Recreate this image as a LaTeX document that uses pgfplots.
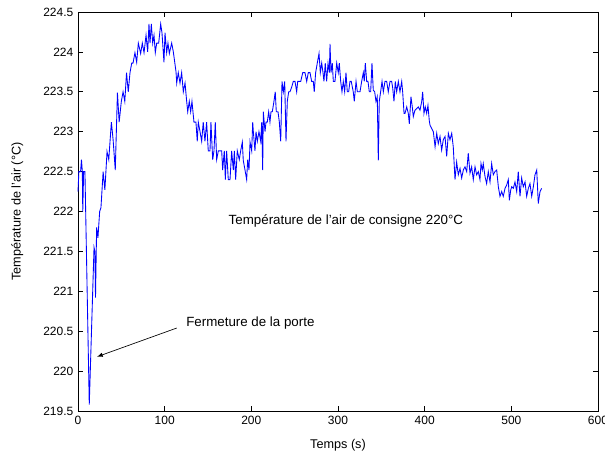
\documentclass[border=0pt]{standalone}
\usepackage{fontspec}
\setmainfont{Liberation Sans}
\usepackage{pgfplots}
\pgfplotsset{compat=1.18}

\begin{document}
\begin{tikzpicture}
\begin{axis}[
    scale only axis,
    width=390pt, height=299.25pt,
    xmin=0, xmax=600, ymin=219.5, ymax=224.5,
    xtick={0,100,...,600},
    ytick={219.5,220,...,224.5},
    tick align=inside,
    major tick length=3.75pt,
    tick style={black, line width=0.5pt},
    axis line style={line width=0.6pt},
    tick label style={font=\fontsize{9}{10}\selectfont},
    label style={font=\fontsize{9.5}{11}\selectfont},
    /pgf/number format/.cd, fixed, precision=1, assume math mode=true,
    /pgfplots/.cd,
    xlabel={Temps (s)},
    ylabel={Température de l'air (°C)},
    xlabel style={at={(axis description cs:0.5,-0.085)}, anchor=center},
    ylabel style={at={(axis description cs:-0.117,0.5)}, anchor=center},
    clip=false,
]
\addplot[color=blue, line width=0.65pt, no marks] coordinates {
(0,222.25) (1,222.5) (3,222.5) (4,222.65) (5,222.5) (5.5,222.0) (6.5,222.5) (8,222.5)
(13,219.58) (18.5,221.55) (19.5,221.5) (20.2,220.92) (21.5,221.8) (23,221.67) (25,222.0)
(26.5,222.05) (29,222.5) (31,222.27) (33.5,222.75) (35.5,222.65) (38.5,223.12) (40.5,222.9)
(43,222.52) (45.5,223.49) (47.5,223.12) (50,223.38) (52,223.5) (54,223.38) (56,223.74)
(58,223.5) (60,223.74) (62,223.86) (63.5,223.86) (65.7,223.99) (67.7,223.87) (69.6,224.11)
(72.3,223.98) (74.2,224.11) (76.2,223.99) (78.5,224.21) (80.4,224.0) (81.9,224.35)
(83.1,224.11) (84.6,224.35) (86.2,224.11) (87.7,224.21) (89.2,223.99) (90.8,224.11)
(93.1,224.11) (95.4,224.35) (96.9,224.24) (99.2,223.87) (100.4,224.24) (102.3,223.99)
(103.8,224.11) (105.4,223.98) (108.1,224.11) (110,224.0) (113.1,223.75) (113.9,223.61)
(115.7,223.74) (117.7,223.61) (119.6,223.74) (121.5,223.5) (123.5,223.61) (125.4,223.38)
(126.6,223.25) (128.4,223.38) (130,223.25) (131.5,223.38) (133.8,223.12) (136.1,223.12)
(137.6,222.88) (138.8,223.12) (140.8,223.0) (142.7,222.88) (144.5,223.12) (146.5,222.88)
(148.4,223.12) (150.3,222.76) (152.3,222.76) (153.4,223.12) (155.4,222.65) (156.9,222.76)
(158.4,223.12) (160,222.65) (161.9,222.76) (163.8,222.76) (165.8,222.76) (166.9,222.52)
(168.8,222.76) (170,222.4) (171.5,222.76) (173.4,222.4) (175.4,222.4) (177.3,222.76)
(179.2,222.52) (180.4,222.76) (181.9,222.4) (183.8,222.76) (186.1,222.65) (187.7,222.76)
(189.6,222.87) (190.7,222.64) (192.7,222.52) (194.6,222.4) (195.8,222.65) (197.3,222.52)
(198.5,222.87) (200.4,222.76) (201.6,223.12)
(202.3,223.0) (204.2,222.76) (205.4,223.0) (206.9,222.88) (208.8,223.0) (210.8,222.88)
(212.0,223.12) (213.1,222.52) (213.8,223.25) (215.8,223.0) (216.9,223.12) (218.4,223.12)
(220.0,223.25) (221.5,223.12) (222.7,223.25) (224.2,223.25) (226.1,223.38) (227.6,223.5)
(228.8,223.25) (230.8,223.25) (232.3,223.12) (233.9,222.88) (235.4,223.63) (236.9,223.5)
(238.5,223.63) (240.0,222.88) (241.5,223.38) (243.1,223.5) (244.6,223.5) (246.6,223.56)
(248.4,223.63) (250.4,223.63) (252.3,223.5) (253.5,223.63) (255.3,223.63) (257.0,223.63)
(259.3,223.74) (261.9,223.74) (263.9,223.63) (265.7,223.74) (267.7,223.74) (269.6,223.63)
(271.5,223.63) (272.6,223.5) (274.2,223.74) (276.1,223.86) (278.1,223.98) (279.6,223.74)
(281.2,223.86) (282.7,223.74) (283.8,223.63) (285.3,223.86) (286.9,223.63) (288.5,223.86)
(290.0,223.74) (290.8,224.1) (291.9,223.74) (293.4,223.86) (294.6,223.63) (296.5,223.63)
(298.5,223.86) (300.3,223.74) (301.5,223.86) (303.1,223.63) (304.6,223.5) (306.1,223.63)
(307.7,223.5) (309.2,223.74) (310.7,223.5) (312.3,223.5) (313.8,223.63) (315.3,223.63)
(317.6,223.5) (318.8,223.38) (320.8,223.63) (322.3,223.5) (323.9,223.5) (325.4,223.5)
(327.3,223.63) (329.2,223.74) (330.3,223.63) (331.5,223.86) (333.1,223.63) (334.6,223.63)
(336.1,223.5) (337.7,223.5) (339.2,223.86) (340.7,223.52) (342.3,223.5) (343.8,223.38)
(345.3,223.44) (346.5,222.64) (347.6,223.38) (349.2,223.5) (350.8,223.63) (352.3,223.5)
(354.2,223.63) (356.2,223.63) (358.0,223.5) (360.0,223.63) (361.9,223.63) (363.1,223.55)
(364.6,223.38) (366.1,223.63) (367.7,223.5) (369.6,223.63) (371.5,223.5) (373.5,223.63)
(374.6,223.5) (376.2,223.23) (377.3,223.23) (379.3,223.31) (381.1,223.23) (382.3,223.1)
(384.2,223.44) (385.7,223.31) (386.9,223.19) (388.8,223.27) (390.8,223.29) (392.6,223.31)
(394.6,223.27) (396.6,223.38) (397.7,223.5) (399.2,223.23) (400.7,223.31) (402.3,223.23)
(403.8,223.33) (405.3,223.14)
(406.2,223.08) (410.0,223.0) (412.0,222.81) (413.9,222.98) (415.7,222.85) (417.7,222.94)
(419.6,222.77) (421.5,222.9) (423.5,222.94) (425.4,222.69) (427.3,222.98) (429.2,222.9)
(431.2,222.98) (433.0,222.81) (435.0,222.4) (436.9,222.62) (438.8,222.46) (440.8,222.54)
(442.7,222.42) (444.6,222.52) (446.5,222.56) (448.5,222.5) (450.3,222.73) (452.3,222.48)
(454.2,222.56) (456.1,222.4) (458.1,222.56) (460.0,222.46) (461.9,222.5) (463.8,222.4)
(465.0,222.6) (466.5,222.52) (467.6,222.6) (469.6,222.44) (471.5,222.35) (473.4,222.5)
(475.4,222.37) (477.3,222.6) (479.2,222.46) (481.1,222.5) (483.1,222.52) (485.0,222.31)
(486.9,222.19) (488.9,222.25) (490.7,222.19) (492.7,222.29) (494.6,222.33) (496.5,222.4)
(497.7,222.14) (499.3,222.27) (500.4,222.31) (502.3,222.29) (504.2,222.37) (506.2,222.25)
(508.0,222.5) (510.0,222.19) (511.9,222.42) (513.8,222.31) (515.8,222.37) (517.7,222.19)
(519.6,222.29) (521.5,222.35) (523.5,222.19) (525.4,222.31) (527.3,222.46) (529.3,222.52)
(531.1,222.1) (533.1,222.25) (535.0,222.29)
};
\node[anchor=west, font=\fontsize{10}{12}\selectfont] at (axis cs:168.5,221.88) {Température de l'air de consigne 220°C};
\node[anchor=west, font=\fontsize{10}{12}\selectfont] at (axis cs:119.5,220.6) {Fermeture de la porte};
\draw[-latex, line width=0.5pt] (axis cs:114,220.54) -- (axis cs:22,220.18);
\end{axis}
\pgfresetboundingbox
\path ([xshift=-58.5pt,yshift=-32.25pt]current axis.south west) rectangle ([xshift=5.25pt,yshift=9pt]current axis.north east);
\end{tikzpicture}
\end{document}
